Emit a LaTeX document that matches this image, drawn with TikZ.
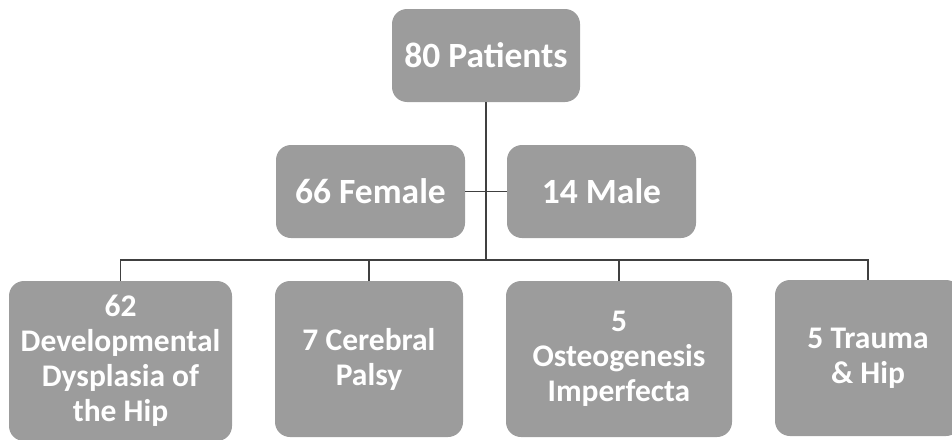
\documentclass[tikz,border=0pt]{standalone}
\usepackage{fontspec}
\setmainfont{Carlito}
\begin{document}
\begin{tikzpicture}[x=1pt,y=-1pt,
  box/.style={draw=none,fill=boxgray,rounded corners=15pt,text=white,
    font=\fontsize{31.5}{35}\selectfont\bfseries,align=center,inner sep=0pt},
  big/.style={font=\fontsize{35.5}{40}\selectfont\bfseries},
  link/.style={draw=linegray,line width=1.7pt}]
\definecolor{boxgray}{RGB}{156,156,156}
\definecolor{linegray}{RGB}{64,64,64}
\useasboundingbox (0,0) rectangle (952,439);
\node[box,big,minimum width=188pt,minimum height=93pt] (top) at (486,55.5) {80 Patients};
\node[box,big,minimum width=189pt,minimum height=93pt] (fem) at (370.5,191.5) {66 Female};
\node[box,big,minimum width=189pt,minimum height=93pt] (male) at (601.5,191.5) {14 Male};
\node[box,minimum width=223pt,minimum height=160pt] (b1) at (120.5,361) {62\\Developmental\\Dysplasia of\\the Hip};
\node[box,minimum width=188pt,minimum height=156pt] (b2) at (369,359) {7 Cerebral\\Palsy};
\node[box,minimum width=226pt,minimum height=156pt] (b3) at (619,359) {5\\Osteogenesis\\Imperfecta};
\node[box,minimum width=186pt,minimum height=156pt] (b4) at (868,358) {5 Trauma\\\& Hip};
\coordinate (j) at (486,260);
\draw[link] (top.south) -- (j);
\draw[link] (fem.east) -- (male.west);
\draw[link] (b1.north) |- (b4.north |- j) -- (b4.north);
\draw[link] (b2.north) -- (b2.north |- j);
\draw[link] (b3.north) -- (b3.north |- j);
\end{tikzpicture}
\end{document}
